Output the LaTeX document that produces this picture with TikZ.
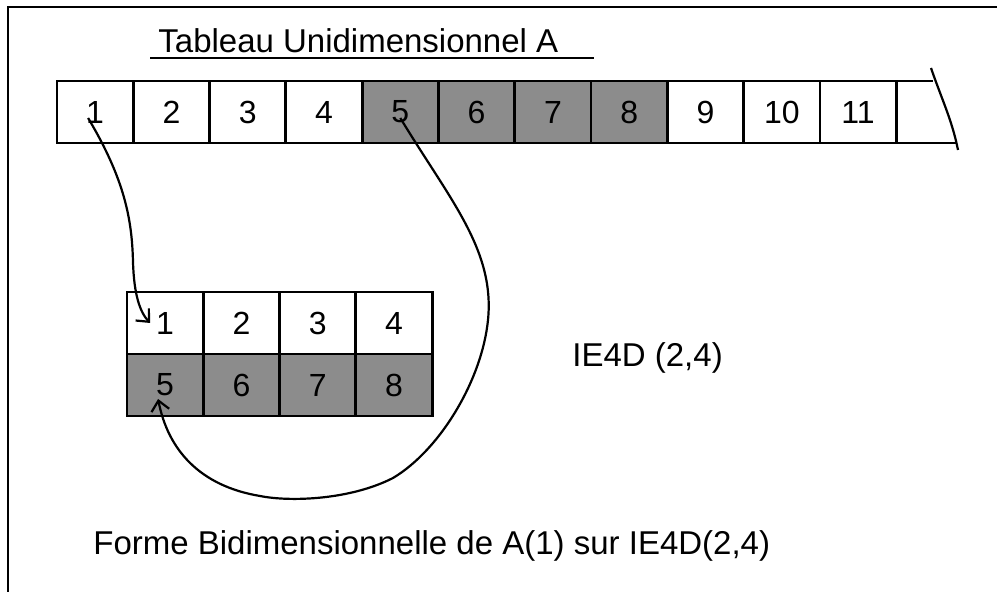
\documentclass[tikz,border=0pt]{standalone}
\usepackage{fontspec}
\setmainfont{Liberation Sans}
\usetikzlibrary{arrows.meta, positioning, calc}

\begin{document}
\begin{tikzpicture}[x=0.5pt, y=-0.5pt,
  cell/.style={draw, line width=1.4pt, minimum width=38.15pt, minimum height=31pt,
    inner sep=0pt, outer sep=0pt, font=\fontsize{16}{18}\selectfont},
  grise/.style={cell, fill=black!45},
  texte/.style={inner sep=0pt, font=\fontsize{16.5}{19}\selectfont},
  lien/.style={line width=1.1pt, -{Straight Barb[length=5pt, width=9pt]}}]
\useasboundingbox (0,0) rectangle (997,592);

% cadre
\draw[line width=1.4pt] (8,592) -- (8,7) -- (997,7);

% titre
\node[texte, anchor=base west] (titre) at (158,53) {Tableau Unidimensionnel A};
\draw[line width=1.2pt] ($(titre.base west)+(-8,5)$) -- ($(titre.base east)+(35,5)$);

% tableau unidimensionnel
\node[cell] (t1) at (95.1,112) {1};
\foreach \i/\j/\st in {2/1/cell, 3/2/cell, 4/3/cell, 5/4/grise, 6/5/grise, 7/6/grise,
                       8/7/grise, 9/8/cell, 10/9/cell, 11/10/cell}
  \node[\st, right=0pt of t\j] (t\i) {\i};

% case ouverte au bout
\coordinate (coupeh) at (933,81);
\coordinate (coupeb) at (957,143);
\draw[line width=1.4pt] (t11.north east) -- (coupeh);
\draw[line width=1.4pt] (t11.south east) -- (coupeb);
\draw[line width=1.1pt] (931,68) .. controls (942,100) and (952,120) .. (958,150);

% forme bidimensionnelle
\node[cell] (f1) at (165.1,323) {1};
\node[cell, right=0pt of f1] (f2) {2};
\node[cell, right=0pt of f2] (f3) {3};
\node[cell, right=0pt of f3] (f4) {4};
\node[grise, below=0pt of f1] (f5) {5};
\node[grise, right=0pt of f5] (f6) {6};
\node[grise, right=0pt of f6] (f7) {7};
\node[grise, right=0pt of f7] (f8) {8};

\node[texte, anchor=base west] (ie4d) at (572,367) {IE4D (2,4)};
\node[texte, anchor=base west] (legende) at (93,555) {Forme Bidimensionnelle de A(1) sur IE4D(2,4)};

% liens
\draw[lien] ($(t1.center)+(-7,6)$) .. controls (125,180) and (132,220) .. (133,262)
  .. controls (134,295) and (140,312) .. ($(f1.center)+(-15,0)$);
\draw[lien] ($(t5.center)+(0,6)$) .. controls (450,200) and (495,250) .. (488,320)
  .. controls (482,380) and (440,450) .. (393,478)
  .. controls (350,500) and (290,502) .. (260,496)
  .. controls (200,486) and (168,450) .. ($(f5.center)+(-7,14)$);
\end{tikzpicture}
\end{document}
